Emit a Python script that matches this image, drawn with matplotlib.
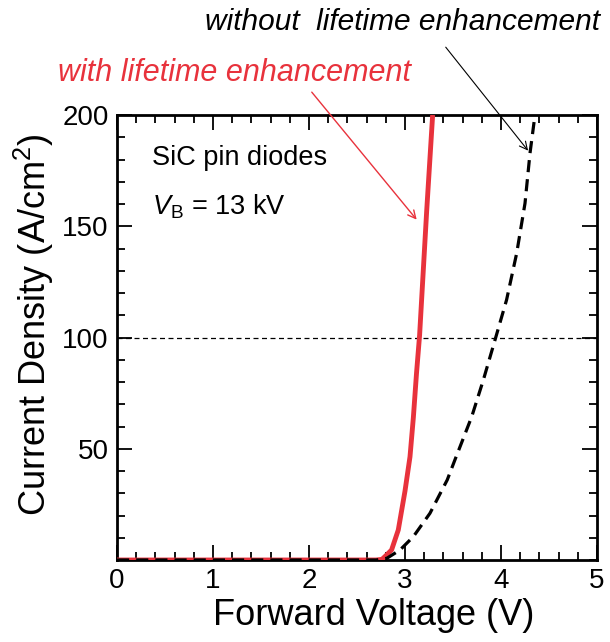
import matplotlib
matplotlib.use("Agg")
import matplotlib.pyplot as plt
from matplotlib.ticker import MultipleLocator

plt.rcParams['font.family'] = ['Liberation Sans', 'DejaVu Sans']
plt.rcParams['mathtext.fontset'] = 'custom'
plt.rcParams['mathtext.rm'] = 'Liberation Sans'
plt.rcParams['mathtext.it'] = 'Liberation Sans:italic'
plt.rcParams['mathtext.bf'] = 'Liberation Sans:bold'

# Data
v_with = [0, 2.70, 2.76, 2.79, 2.86, 2.93, 3.0, 3.052, 3.087, 3.12, 3.152, 3.226, 3.288]
j_with = [0, 0, 0.3, 1.5, 4.5, 13.5, 31, 46.4, 64, 84, 101, 157, 200]
v_without = [0, 2.70, 2.81, 2.948, 3.087, 3.26, 3.44, 3.52, 3.695, 3.816, 3.945,
             4.058, 4.163, 4.25, 4.302, 4.354]
j_without = [0, 0, 0.75, 4.5, 10.5, 21, 36, 45, 64.4, 80.9, 100,
             116.9, 137.8, 160.3, 182.8, 200]
x_ticks = [0, 1, 2, 3, 4, 5]
y_ticks = [50, 100, 150, 200]
ref_level = 100

fig = plt.figure(figsize=(6.10, 6.42), dpi=100)
ax = fig.add_axes([117/610, 1-560/642, (597-117)/610, (560-115)/642])

ax.plot(v_with, j_with, color='#e8323c', lw=3.5, zorder=3, solid_capstyle='butt')
ax.plot(v_without, j_without, color='black', lw=2.3, ls=(0, (3.8, 2.2)), zorder=4)
ax.axhline(ref_level, color='black', lw=0.9, ls=(0, (4.0, 2.8)), zorder=2)

ax.set_xlim(0, 5)
ax.set_ylim(0, 200)
ax.set_xticks(x_ticks)
ax.set_yticks(y_ticks)
ax.xaxis.set_minor_locator(MultipleLocator(0.2))
ax.yaxis.set_minor_locator(MultipleLocator(10))
ax.tick_params(which='both', direction='in', top=True, right=True, width=1.3)
ax.tick_params(which='major', length=10.5, labelsize=20, pad=6)
ax.tick_params(which='minor', length=5.8)
for s in ax.spines.values():
    s.set_linewidth(2.0)

ax.set_xlabel('Forward Voltage (V)', fontsize=26, labelpad=4)
ax.set_ylabel('Current Density (A/cm$^2$)', fontsize=26, labelpad=6)
ax.xaxis.set_label_coords(0.5 + 17/480, -0.085)
ax.yaxis.set_label_coords(-0.128, 0.528)

ax.text(0.365, 180.6, 'SiC pin diodes', fontsize=19.5, va='center', ha='left')
ax.text(0.365, 158.7, r'$V_{\mathrm{B}}$ = 13 kV', fontsize=19.5, va='center', ha='left')

ax.annotate('with lifetime enhancement', xy=(3.156, 152), xycoords='data',
            xytext=(58/610, 1-73/642), textcoords='figure fraction',
            fontsize=22, style='italic', color='#e8323c', ha='left', va='center',
            annotation_clip=False)
ax.annotate('', xy=(3.14, 152), xycoords='data',
            xytext=(310/610, 1-90/642), textcoords='figure fraction',
            arrowprops=dict(arrowstyle='->', color='#e8323c', lw=1.0, mutation_scale=14),
            annotation_clip=False)
ax.annotate('without  lifetime enhancement', xy=(4.30, 183), xycoords='data',
            xytext=(205/610, 1-22/642), textcoords='figure fraction',
            fontsize=21.5, style='italic', color='black', ha='left', va='center',
            annotation_clip=False)
ax.annotate('', xy=(4.30, 183), xycoords='data',
            xytext=(444/610, 1-45/642), textcoords='figure fraction',
            arrowprops=dict(arrowstyle='->', color='black', lw=0.8, mutation_scale=14),
            annotation_clip=False)

fig.savefig('out.png', dpi=100)
